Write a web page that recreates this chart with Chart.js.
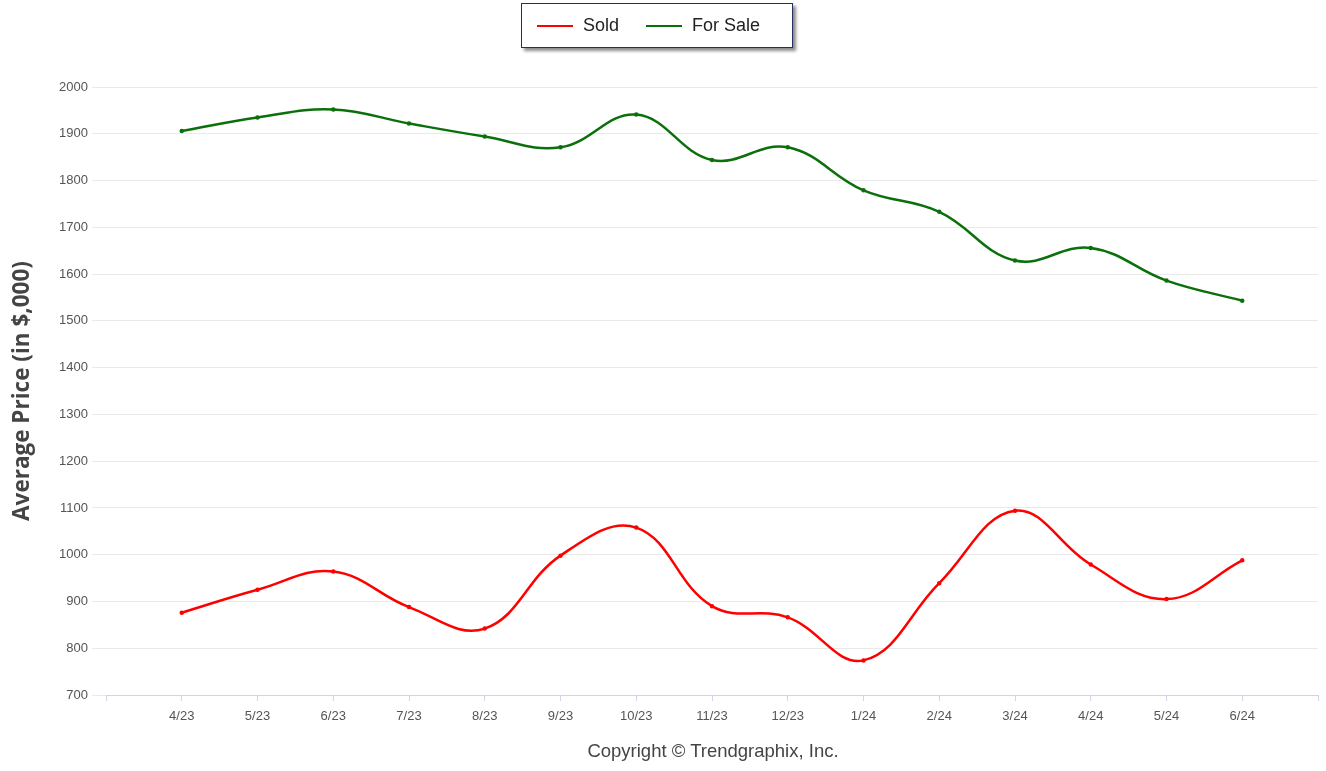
<!DOCTYPE html>
<html>
<head>
<meta charset="utf-8">
<script src="https://cdn.jsdelivr.net/npm/chart.js@4.4.1/dist/chart.umd.min.js"></script>
<style>
  html, body { margin: 0; padding: 0; background: #fff; }
  #wrap { position: relative; width: 1326px; height: 771px; overflow: hidden; }
  #c { position: absolute; left: 0; top: 0; }
  #legend {
    position: absolute; left: 521px; top: 3px; width: 272px; height: 45px;
    border: 1.5px solid #23315e; box-shadow: 3px 3px 3px rgba(0,0,0,0.45);
    background: #fff; font-family: "Liberation Sans", Arial, sans-serif; font-size: 18px; color: #222;
    display: flex; align-items: center; box-sizing: border-box; padding-left: 15px;
  }
  .item { display: flex; align-items: center; margin-right: 27px; }
  .sym { width: 36px; height: 2px; margin-right: 10px; }
  #copy {
    position: absolute; left: 0; width: 1426px; top: 740px; text-align: center;
    font-family: "Liberation Sans", Arial, sans-serif; font-size: 18.5px; color: #444;
  }
</style>
</head>
<body>
<div id="wrap">
  <canvas id="c" width="1326" height="771"></canvas>
  <div id="legend"></div>
  <div id="copy">Copyright © Trendgraphix, Inc.</div>
</div>
<script>
const months = ['4/23','5/23','6/23','7/23','8/23','9/23','10/23','11/23','12/23','1/24','2/24','3/24','4/24','5/24','6/24'];
const soldValues = [876, 925, 964, 888, 842, 998, 1058, 890, 866, 774, 939, 1094, 979, 905, 988];
const forSaleValues = [1906, 1935, 1952, 1922, 1894, 1871, 1941, 1844, 1871, 1779, 1733, 1629, 1656, 1586, 1543];
const seriesNames = ['Sold', 'For Sale'];
const seriesColors = ['#ff0000', '#0b700b'];
const yTitle = 'Average Price (in $,000)';
const yMin = 700, yMax = 2000, yStep = 100;

// pad one empty category at each end (axis extends one step beyond the data)
const labels = [''].concat(months, ['']);
const pad = arr => [null].concat(arr, [null]);

const tickFont = { family: '"Liberation Sans Narrow", "Liberation Sans", Arial, sans-serif', size: 13 };

const chart = new Chart(document.getElementById('c'), {
  type: 'line',
  data: {
    labels: labels,
    datasets: [
      { label: seriesNames[0], data: pad(soldValues), borderColor: seriesColors[0], backgroundColor: seriesColors[0],
        borderWidth: 2.5, pointRadius: 1, pointHoverRadius: 1, tension: 0.4, fill: false },
      { label: seriesNames[1], data: pad(forSaleValues), borderColor: seriesColors[1], backgroundColor: seriesColors[1],
        borderWidth: 2.5, pointRadius: 1, pointHoverRadius: 1, tension: 0.4, fill: false }
    ]
  },
  options: {
    responsive: false,
    animation: false,
    events: [],
    layout: { padding: { top: 87, right: 7, bottom: 36, left: 0 } },
    plugins: { legend: { display: false }, tooltip: { enabled: false } },
    scales: {
      x: {
        type: 'category',
        offset: false,
        grid: { drawOnChartArea: false, drawTicks: true, tickLength: 6, color: '#ccd6eb' },
        border: { display: true, color: '#ccd6eb', width: 1 },
        ticks: { autoSkip: false, maxRotation: 0, minRotation: 0, color: '#555', font: tickFont, padding: 8 },
        afterFit: s => { s.height = 40; }
      },
      y: {
        min: yMin, max: yMax,
        grid: { color: '#e9e9e9', drawTicks: true, tickLength: 14 },
        border: { display: false },
        ticks: { stepSize: yStep, color: '#555', font: tickFont, padding: 4, callback: v => String(v) },
        title: { display: true, text: yTitle, color: '#444',
                 font: { family: '"Open Sans", "DejaVu Sans", sans-serif', size: 22.5, weight: 'bold' },
                 padding: { top: 9, bottom: 0 } },
        afterFit: s => { s.width = 106; }
      }
    }
  }
});

// HTML legend built from the chart's datasets
const lg = document.getElementById('legend');
chart.data.datasets.forEach(ds => {
  const it = document.createElement('div'); it.className = 'item';
  const sym = document.createElement('span'); sym.className = 'sym'; sym.style.background = ds.borderColor;
  const tx = document.createElement('span'); tx.textContent = ds.label;
  it.appendChild(sym); it.appendChild(tx); lg.appendChild(it);
});
</script>
</body>
</html>
